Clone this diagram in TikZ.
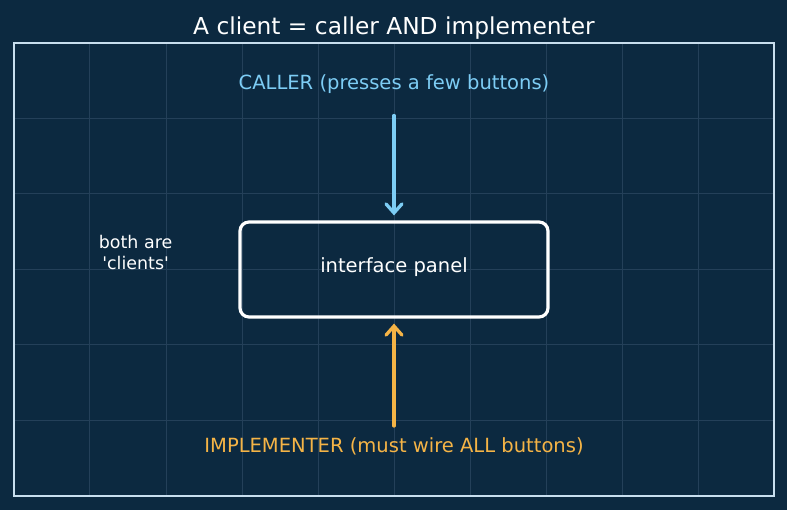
\documentclass[tikz,border=0pt]{standalone}
\usepackage{fontspec}
\setmainfont{DejaVu Sans}
\usetikzlibrary{arrows.meta}

\definecolor{bgnavy}{RGB}{12,41,64}
\definecolor{gridline}{RGB}{36,64,89}
\definecolor{framecol}{RGB}{200,222,238}
\definecolor{callercol}{RGB}{125,205,245}
\definecolor{implcol}{RGB}{245,180,70}

\tikzset{
  panelbox/.style={draw=white, line width=3.2bp, rounded corners=9bp,
    minimum width=308bp, minimum height=95bp, text=white, font=\fontsize{19.6}{23}\selectfont},
  flowarrow/.style={line width=3.3bp, line cap=round,
    -{Straight Barb[length=9bp, width=16bp, line cap=round]}}
}

\begin{document}
\begin{tikzpicture}[x=76bp, y=75.5bp]
                % Background and frame
                \fill[bgnavy] (-14/76,-14/75.5) rectangle (773/76,496/75.5);
                \useasboundingbox (-14/76,-14/75.5) rectangle (773/76,496/75.5);
                \foreach \i in {1,...,9}
                  \draw[gridline, line width=1bp] (\i,0) -- (\i,6);
                \foreach \j in {1,...,5}
                  \draw[gridline, line width=1bp] (0,\j) -- (10,\j);
                \draw[framecol, line width=2.2bp] (0,0) rectangle (10,6);
                
                % Title
                \node[white, font=\fontsize{23.4}{28}\selectfont] (title) at (5,6.2) {A client = caller AND implementer};
                
                % Panel
                \node[panelbox] (panel) at (5,3) {\raisebox{8bp}{interface panel}};
                
                % Caller
                \node[callercol, font=\fontsize{19.6}{23}\selectfont] (caller) at (5,5.45) {CALLER (presses a few buttons)};
                \draw[flowarrow, callercol, shorten <=18bp, shorten >=5bp] (caller.south) -- (panel.north);
                
                % Implementer
                \node[implcol, font=\fontsize{19.6}{23}\selectfont] (impl) at (5,0.66) {IMPLEMENTER (must wire ALL buttons)};
                \draw[flowarrow, implcol, shorten <=8bp, shorten >=5bp] (impl.north) -- (panel.south);
                
                % Note
                \node[white, align=center, font=\fontsize{17.5}{21}\selectfont] (note) at (1.6,3.22) {both are\\\textquotesingle clients\textquotesingle};
            \end{tikzpicture}
\end{document}
